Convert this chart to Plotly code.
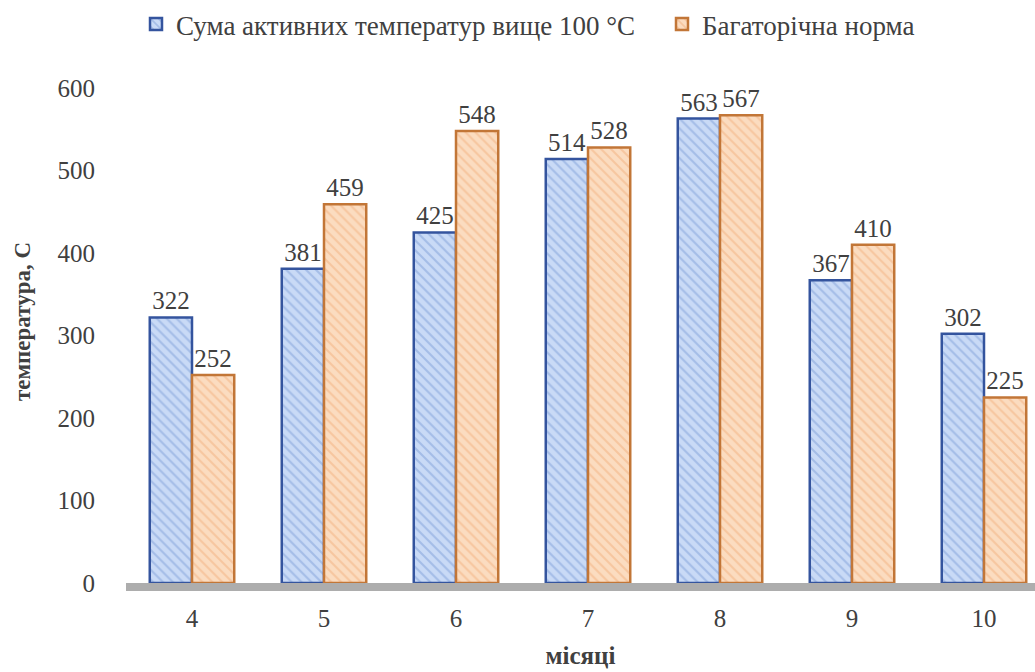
import plotly.graph_objects as go

# Months (growing season) and temperature sums
months = [4, 5, 6, 7, 8, 9, 10]
active_sum = [322, 381, 425, 514, 563, 367, 302]
long_term_norm = [252, 459, 548, 528, 567, 410, 225]

series_names = ["Сума активних температур вище 100 °C", "Багаторічна норма"]
y_ticks = [0, 100, 200, 300, 400, 500, 600]

font_family = "Liberation Serif"
text_color = "#404040"
W, H = 1035, 672

fig = go.Figure()

fig.add_trace(go.Bar(
    x=months,
    y=active_sum,
    name=series_names[0],
    legend="legend",
    text=[str(v) for v in active_sum],
    textposition="outside",
    cliponaxis=False,
    constraintext="none",
    textfont=dict(family=font_family, size=25, color=text_color),
    marker=dict(
        color="#b4cbf0",
        line=dict(color="#34549e", width=2.5),
        pattern=dict(shape="\\", fgcolor="#7f9fd8", bgcolor="#c9daf6",
                     size=7, solidity=0.3),
    ),
))

fig.add_trace(go.Bar(
    x=months,
    y=long_term_norm,
    name=series_names[1],
    legend="legend2",
    text=[str(v) for v in long_term_norm],
    textposition="outside",
    cliponaxis=False,
    constraintext="none",
    textfont=dict(family=font_family, size=25, color=text_color),
    marker=dict(
        color="#f9cfa9",
        line=dict(color="#c27637", width=2.5),
        pattern=dict(shape="\\", fgcolor="#f2b07e", bgcolor="#fbdcc0",
                     size=7, solidity=0.3),
    ),
))

legend_style = dict(
    orientation="h",
    xref="container", xanchor="left",
    y=1.0, yref="container", yanchor="top",
    font=dict(family=font_family, size=27, color=text_color),
    itemwidth=30,
    bgcolor="rgba(0,0,0,0)",
)

fig.update_layout(
    width=W,
    height=H,
    margin=dict(l=126, r=0, t=60, b=89),
    paper_bgcolor="white",
    plot_bgcolor="white",
    barmode="group",
    bargap=0.36,
    bargroupgap=0.0,
    font=dict(family=font_family, color=text_color),
    showlegend=True,
    legend=dict(x=136 / W, **legend_style),
    legend2=dict(x=662 / W, **legend_style),
    xaxis=dict(
        range=[3.5, 3.5 + 909 / 132],
        tickmode="array",
        tickvals=months,
        ticktext=[str(m) for m in months],
        tickfont=dict(family=font_family, size=25, color=text_color),
        showgrid=False,
        zeroline=False,
        showline=True,
        linecolor="#adadad",
        linewidth=8,
        ticks="",
        ticklabelstandoff=6,
        title=dict(text="<b>місяці</b>", standoff=18,
                   font=dict(family=font_family, size=25, color=text_color)),
    ),
    yaxis=dict(
        range=[0, 634],
        tickmode="array",
        tickvals=y_ticks,
        ticktext=[str(t) for t in y_ticks],
        tickfont=dict(family=font_family, size=25, color=text_color),
        showgrid=False,
        zeroline=False,
        showline=False,
        ticks="",
        ticklabelstandoff=30,
        title=dict(text="<b>температура, С</b>", standoff=20,
                   font=dict(family=font_family, size=23, color=text_color)),
    ),
)

fig.write_html("out.html")
